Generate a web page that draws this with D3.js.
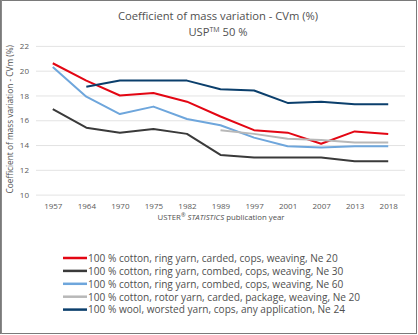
<!DOCTYPE html>
<html>
<head>
<meta charset="utf-8">
<script src="https://cdn.jsdelivr.net/npm/d3@7"></script>
<style>
  html, body { margin: 0; padding: 0; background: #fff; }
  svg { display: block; font-family: "Open Sans", "Noto Sans", sans-serif; }
</style>
</head>
<body>
<svg id="chart" width="418" height="335"></svg>
<script>
// Publication years of USTER STATISTICS
const years = ["1957", "1964", "1970", "1975", "1982", "1989", "1997", "2001", "2007", "2013", "2018"];

// CVm (%) at USP 50 % for each yarn; null where no value was published
const cottonRingCardedNe20 = [20.6, 19.2, 18.0, 18.2, 17.5, 16.3, 15.2, 15.0, 14.1, 15.1, 14.9];
const cottonRingCombedNe30 = [16.9, 15.4, 15.0, 15.3, 14.9, 13.2, 13.0, 13.0, 13.0, 12.7, 12.7];
const cottonRingCombedNe60 = [20.3, 17.9, 16.5, 17.1, 16.1, 15.6, 14.6, 13.9, 13.8, 13.9, 13.9];
const cottonRotorCardedNe20 = [null, null, null, null, null, 15.2, 14.9, 14.5, 14.4, 14.2, 14.2];
const woolWorstedNe24 = [null, 18.7, 19.2, 19.2, 19.2, 18.5, 18.4, 17.4, 17.5, 17.3, 17.3];

const yTicks = [10, 12, 14, 16, 18, 20, 22];

const seriesNames = [
  "100 % cotton, ring yarn, carded, cops, weaving, Ne 20",
  "100 % cotton, ring yarn, combed, cops, weaving, Ne 30",
  "100 % cotton, ring yarn, combed, cops, weaving, Ne 60",
  "100 % cotton, rotor yarn, carded, package, weaving, Ne 20",
  "100 % wool, worsted yarn, cops, any application, Ne 24"
];
const seriesColors = ["#e30613", "#3a3a3a", "#6ea6dc", "#b8b8b8", "#0b3f6c"];
const seriesValues = [cottonRingCardedNe20, cottonRingCombedNe30, cottonRingCombedNe60, cottonRotorCardedNe20, woolWorstedNe24];

const series = seriesNames.map((name, i) => ({ name, color: seriesColors[i], values: seriesValues[i] }));

const svg = d3.select("#chart");
const W = 418, H = 335;
const textColor = "#505050";

// frame
svg.append("rect").attr("x", 0.5).attr("y", 0.5).attr("width", W - 2).attr("height", H - 2)
  .attr("fill", "#fff").attr("stroke", "#7a7a7a").attr("stroke-width", 1);
svg.append("line").attr("x1", 1.5).attr("x2", 1.5).attr("y1", 0).attr("y2", H - 1)
  .attr("stroke", "#8a8a8a").attr("stroke-width", 1);

const plot = { left: 36, right: 405, top: 45.9, bottom: 194.6 };

const x = d3.scalePoint().domain(years).range([plot.left, plot.right]).padding(0.5);
const y = d3.scaleLinear().domain([10, 22]).range([plot.bottom, plot.top]);

// title
svg.append("text").attr("x", 218).attr("y", 20).attr("text-anchor", "middle")
  .attr("font-size", 11.2).attr("fill", textColor)
  .text("Coefficient of mass variation - CVm (%)");
const sub = svg.append("text").attr("x", 218).attr("y", 36).attr("text-anchor", "middle")
  .attr("font-size", 11.2).attr("fill", textColor);
sub.append("tspan").text("USP");
sub.append("tspan").attr("font-size", 7).attr("dy", -4).text("TM");
sub.append("tspan").attr("dy", 4).text(" 50 %");

// gridlines + y axis
const yAxis = d3.axisLeft(y).tickValues(yTicks).tickSize(-(plot.right - plot.left)).tickPadding(7);
const gy = svg.append("g").attr("transform", `translate(${plot.left},0)`).call(yAxis);
gy.select(".domain").remove();
gy.selectAll(".tick line").attr("stroke", "#e3e3e3").attr("stroke-width", 1);
gy.selectAll(".tick text").attr("fill", "#5a5a5a").attr("font-size", 8).attr("font-family", "Open Sans, sans-serif");

// x axis labels
const xAxis = d3.axisBottom(x).tickSize(0).tickPadding(9);
const gx = svg.append("g").attr("transform", `translate(0,${plot.bottom})`).call(xAxis);
gx.select(".domain").remove();
gx.selectAll(".tick text").attr("fill", "#5a5a5a").attr("font-size", 8).attr("font-family", "Open Sans, sans-serif");

// axis titles
const xt = svg.append("text").attr("x", 221).attr("y", 220).attr("text-anchor", "middle")
  .attr("font-size", 7.8).attr("fill", textColor);
xt.append("tspan").text("USTER");
xt.append("tspan").attr("font-size", 5.5).attr("dy", -3).text("®");
xt.append("tspan").attr("dy", 3).attr("font-style", "italic").text(" STATISTICS");
xt.append("tspan").text(" publication year");

svg.append("text").attr("transform", `translate(13,${(plot.top + plot.bottom) / 2 - 1}) rotate(-90)`)
  .attr("text-anchor", "middle").attr("font-size", 8.3).attr("fill", textColor)
  .text("Coefficient of mass variation - CVm (%)");

// series lines
const line = d3.line()
  .defined(d => d.v != null)
  .x(d => x(d.year))
  .y(d => y(d.v));

svg.append("g").selectAll("path").data(series).join("path")
  .attr("d", s => line(s.values.map((v, i) => ({ year: years[i], v }))))
  .attr("fill", "none")
  .attr("stroke", s => s.color)
  .attr("stroke-width", 2)
  .attr("stroke-linejoin", "round");

// legend
const lg = svg.append("g").selectAll("g").data(series).join("g")
  .attr("transform", (d, i) => `translate(63,${258 + i * 12.9})`);
lg.append("line").attr("x1", 0).attr("x2", 24).attr("y1", 0).attr("y2", 0)
  .attr("stroke", d => d.color).attr("stroke-width", 2.5);
lg.append("text").attr("x", 25).attr("y", 3.8).attr("font-size", 10.1).attr("fill", textColor)
  .text(d => d.name);
</script>
</body>
</html>
